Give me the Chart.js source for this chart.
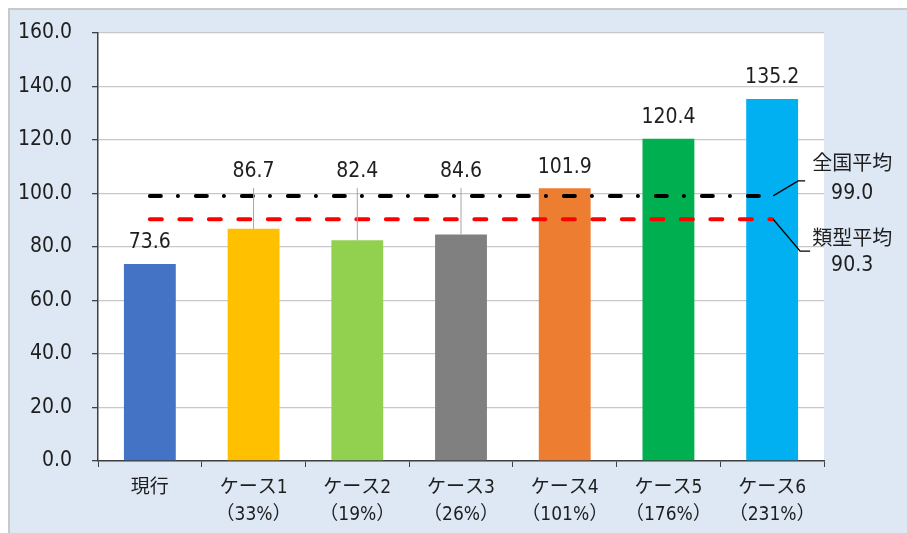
<!DOCTYPE html>
<html>
<head>
<meta charset="utf-8">
<script src="https://cdn.jsdelivr.net/npm/chart.js@4"></script>
<style>
  html, body { margin: 0; padding: 0; background: #fff; }
  #frame {
    position: absolute; left: 8px; top: 8px; width: 920px; height: 540px;
    background: #dde8f4; border-top: 2px solid #c9c9c9; border-left: 2px solid #c9c9c9;
  }
  #chart { position: absolute; left: 0; top: 0; }
</style>
</head>
<body>
<div id="frame"></div>
<canvas id="chart" width="907" height="533"></canvas>
<script>
// data
const categories = [
  ['現行'],
  ['ケース1', '（33%）'],
  ['ケース2', '（19%）'],
  ['ケース3', '（26%）'],
  ['ケース4', '（101%）'],
  ['ケース5', '（176%）'],
  ['ケース6', '（231%）'],
];
const values = [73.6, 86.7, 82.4, 84.6, 101.9, 120.4, 135.2];
const barColors = ['#4472C4', '#FFC000', '#92D050', '#808080', '#ED7D31', '#00B050', '#00B0F0'];
const nationalAvg = [99.0, 99.0, 99.0, 99.0, 99.0, 99.0, 99.0];
const typeAvg = [90.3, 90.3, 90.3, 90.3, 90.3, 90.3, 90.3];
const nationalLabel = '全国平均';
const typeLabel = '類型平均';
const yTicks = [0, 20, 40, 60, 80, 100, 120, 140, 160];

const FONT = "'DejaVu Sans Condensed', 'Noto Sans CJK JP', sans-serif";
const TEXT = '#1e1e1e';

// white plot background
const plotBg = {
  id: 'plotBg',
  beforeDraw(chart) {
    const { ctx, chartArea: a } = chart;
    ctx.save();
    ctx.fillStyle = '#fff';
    ctx.fillRect(a.left, a.top, a.right - a.left, a.bottom - a.top);
    ctx.restore();
  }
};

// value labels, leader lines and the average callouts
const labels = {
  id: 'labels',
  afterDatasetsDraw(chart) {
    const ctx = chart.ctx;
    const y = chart.scales.y;
    const bars = chart.getDatasetMeta(0).data;
    const natY = y.getPixelForValue(nationalAvg[0]);
    const typY = y.getPixelForValue(typeAvg[0]);
    ctx.save();
    ctx.font = '21px ' + FONT;
    ctx.fillStyle = TEXT;
    ctx.textAlign = 'center';
    ctx.textBaseline = 'middle';
    bars.forEach((bar, i) => {
      const v = values[i];
      const txt = v.toFixed(1);
      // labels that would sit on the average lines are lifted above them
      if (v < nationalAvg[0] && v > typeAvg[0] - 12) {
        ctx.strokeStyle = '#a6a6a6';
        ctx.lineWidth = 1;
        ctx.beginPath();
        ctx.moveTo(bar.x, natY - 8);
        ctx.lineTo(bar.x, bar.y);
        ctx.stroke();
        ctx.fillText(txt, bar.x, natY - 24);
      } else {
        ctx.fillText(txt, bar.x, bar.y - 21);
      }
    });

    const endX = bars[bars.length - 1].x;
    ctx.strokeStyle = '#000';
    ctx.lineWidth = 1.3;
    ctx.beginPath();
    ctx.moveTo(endX + 1, natY);
    ctx.lineTo(endX + 26, natY - 15);
    ctx.lineTo(endX + 33, natY - 15);
    ctx.stroke();
    ctx.beginPath();
    ctx.moveTo(endX + 1, typY);
    ctx.lineTo(endX + 28, typY + 32);
    ctx.lineTo(endX + 38, typY + 32);
    ctx.stroke();

    ctx.font = '20px ' + FONT;
    ctx.fillText(nationalLabel, endX + 80, natY - 31);
    ctx.fillText(typeLabel, endX + 80, typY + 21);
    ctx.font = '21px ' + FONT;
    ctx.fillText(nationalAvg[0].toFixed(1), endX + 80, natY - 2);
    ctx.fillText(typeAvg[0].toFixed(1), endX + 80, typY + 46);
    ctx.restore();
  }
};

new Chart(document.getElementById('chart'), {
  data: {
    labels: categories,
    datasets: [
      {
        type: 'bar',
        data: values,
        backgroundColor: barColors,
        barPercentage: 0.5,
        categoryPercentage: 1,
        order: 2,
      },
      {
        type: 'line',
        data: nationalAvg,
        borderColor: '#000',
        borderWidth: 4,
        borderCapStyle: 'round',
        borderDash: [11, 17, 0.1, 17.9],
        pointRadius: 0,
        fill: false,
        order: 0,
      },
      {
        type: 'line',
        data: typeAvg,
        borderColor: '#ff0000',
        borderWidth: 4,
        borderCapStyle: 'round',
        borderDash: [12, 17.5],
        pointRadius: 0,
        fill: false,
        order: 1,
      },
    ],
  },
  options: {
    responsive: false,
    animation: false,
    layout: { padding: { top: 29, right: 83, bottom: 0, left: 0 } },
    plugins: { legend: { display: false }, tooltip: { enabled: false } },
    scales: {
      x: {
        grid: { drawOnChartArea: false, tickLength: 6, tickColor: '#404040', offset: true },
        border: { color: '#404040', width: 1.5 },
        ticks: { color: TEXT, font: { family: FONT, size: 19, lineHeight: 1.45 }, padding: 7, maxRotation: 0, autoSkip: false },
        afterFit(s) { s.height = 72; },
      },
      y: {
        min: 0,
        max: 160,
        afterBuildTicks(s) { s.ticks = yTicks.map(v => ({ value: v })); },
        grid: { color: '#c8c8c8', lineWidth: 1.3, tickLength: 6, tickColor: '#404040' },
        border: { color: '#404040', width: 1.5 },
        ticks: { color: TEXT, font: { family: FONT, size: 21 }, padding: 20, callback: v => v.toFixed(1) },
        afterFit(s) { s.width = 98; },
      },
    },
  },
  plugins: [plotBg, labels],
});
</script>
</body>
</html>
